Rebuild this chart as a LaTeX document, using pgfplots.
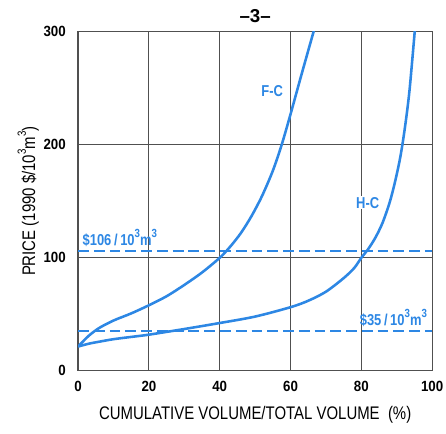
\documentclass[border=0pt]{standalone}
\usepackage{fontspec}
\setmainfont{Liberation Sans}
\newfontfamily\condensed{Liberation Sans}[FakeStretch=0.82]
\newfontfamily\tickf{Liberation Sans}[FakeStretch=0.9]
\usepackage{pgfplots}
\pgfplotsset{compat=1.18}
\definecolor{cblue}{RGB}{45,135,228}
\definecolor{gridc}{RGB}{80,80,80}
\newcommand{\supx}[1]{\raisebox{0.5em}{\fontsize{12}{13}\selectfont #1}}
\begin{document}
\begin{tikzpicture}
\begin{axis}[
  at={(0,0)}, anchor=south west,
  scale only axis,
  width=358bp, height=343bp,
  xmin=0, xmax=100, ymin=0, ymax=300,
  xtick={0,20,40,60,80,100},
  ytick={0,100,200,300},
  major tick length=0pt,
  grid=major,
  major grid style={gridc, line width=1pt},
  axis line style={gridc, line width=1.3pt},
  /pgf/number format/assume math mode=true,
  tick label style={font=\fontsize{15}{17}\selectfont\tickf\bfseries},
  xticklabel style={yshift=-7pt},
  yticklabel style={xshift=-9pt},
  xlabel={CUMULATIVE VOLUME/TOTAL VOLUME \ (\%)},
  ylabel={PRICE (1990 \$/10\supx{3}m\supx{3})},
  label style={font=\fontsize{18.5}{20}\selectfont\condensed},
  xlabel style={yshift=-8pt},
  ylabel style={yshift=-2pt},
  title={\textendash3\textendash},
  title style={font=\fontsize{19}{21}\selectfont\bfseries, yshift=0pt},
  clip=true,
]
\addplot[cblue, line width=2.6pt, smooth, tension=0.5] coordinates {
 (0,21.5) (3,31) (6,38) (10,44.5) (15,50.8) (20,58) (25,66) (30,76) (35,87)
 (40,100) (43,110) (46,122) (49,137) (52,155) (55,177) (57.5,200) (60,227) (63,261) (66.6,301)
};
\addplot[cblue, line width=2.6pt, smooth, tension=0.5] coordinates {
 (0,21.5) (3,24) (6,25.8) (10,28) (15,30) (20,32) (30,37) (40,42.3) (50,48)
 (60,56.3) (65,62) (70,70) (75,82) (78,91) (80,100) (82,108) (84,118)
 (86,131) (88,149) (89.5,167) (91,189) (92.3,215) (93.6,248) (95.1,301)
};
\addplot[cblue, line width=2.2pt, dash pattern=on 11pt off 5pt, forget plot] coordinates {(0,106) (100,106)};
\addplot[cblue, line width=2.2pt, dash pattern=on 11pt off 5pt, forget plot] coordinates {(0,35) (100,35)};
\node[cblue, font=\fontsize{16}{17}\selectfont\condensed\bfseries, anchor=base west] at (axis cs:0.3,111) {\$106\,/\,10\supx{3}m\supx{3}};
\node[cblue, font=\fontsize{16}{17}\selectfont\condensed\bfseries, anchor=base east] at (axis cs:99.5,40) {\$35\,/\,10\supx{3}m\supx{3}};
\node[cblue, font=\fontsize{16}{17}\selectfont\condensed\bfseries, fill=white, inner sep=1pt] at (axis cs:54.8,247.8) {F-C};
\node[cblue, font=\fontsize{16}{17}\selectfont\condensed\bfseries, fill=white, inner sep=1pt] at (axis cs:81.8,148.7) {H-C};
\end{axis}
\pgfresetboundingbox
\path[use as bounding box] (-79bp,-63bp) rectangle (372bp,375bp);
\end{tikzpicture}
\end{document}
